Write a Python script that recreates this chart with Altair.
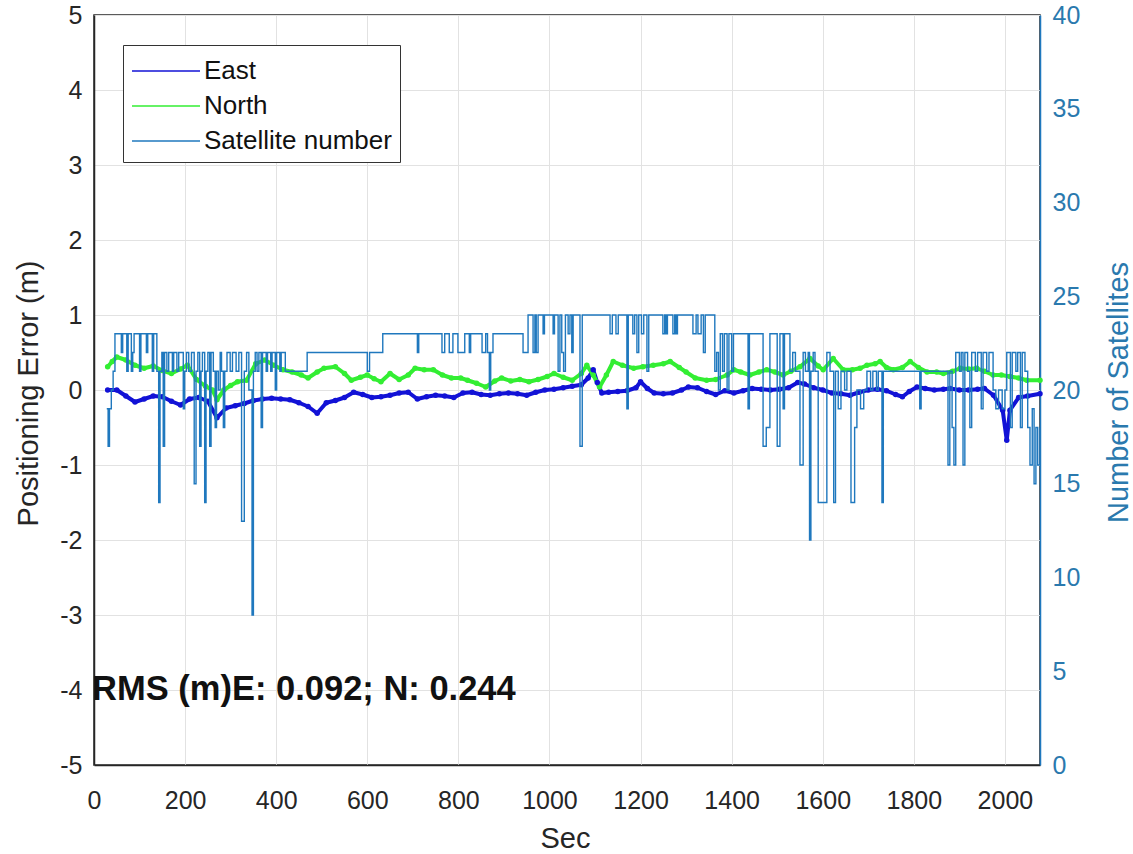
import altair as alt
import pandas as pd

# ---------------- data ----------------
east_t = [30,50,70,90,110,130,150,170,190,210,230,250,270,290,310,330,350,370,390,410,
          430,450,470,490,510,530,550,570,590,610,630,650,670,690,710,730,750,770,790,810,
          830,850,870,890,910,930,950,970,990,1010,1030,1050,1070,
          1085,1096,1105,1115,1130,1150,1170,1190,1200,1215,1230,1250,1270,1290,1305,1325,
          1345,1365,1385,1405,1425,1445,1465,1485,1505,1525,1545,1560,1580,1600,1620,1640,
          1660,1680,1700,1720,1740,1760,1775,1790,1807,1825,1845,1865,1880,1900,1920,1940,
          1955,1975,1995,2004,2011,2030,2050,2077]
east_v = [0.0,0.0,-0.08,-0.16,-0.12,-0.08,-0.09,-0.15,-0.2,-0.12,
          -0.1,-0.15,-0.37,-0.24,-0.21,-0.18,-0.14,-0.12,-0.11,-0.12,
          -0.13,-0.17,-0.22,-0.31,-0.17,-0.14,-0.1,-0.03,-0.06,-0.1,
          -0.09,-0.07,-0.04,-0.03,-0.12,-0.09,-0.07,-0.08,-0.1,-0.04,
          -0.03,-0.06,-0.07,-0.05,-0.04,-0.05,-0.07,-0.03,0.0,0.01,
          0.03,0.05,0.07,
          0.16,0.27,0.1,-0.04,-0.03,-0.02,-0.01,0.03,0.11,0.02,
          -0.04,-0.05,-0.04,0.0,0.04,0.03,-0.02,-0.06,-0.01,-0.04,
          -0.01,0.02,0.01,0.0,0.01,0.03,0.1,0.08,0.03,0.0,
          -0.04,-0.05,-0.07,-0.03,0.0,0.01,-0.01,-0.06,-0.09,-0.02,
          0.04,0.02,0.0,0.01,0.02,0.0,0.0,0.01,0.02,-0.07,
          -0.27,-0.67,-0.27,-0.1,-0.08,-0.05]

north_t = [30,40,50,70,90,110,130,150,170,190,205,225,245,260,270,285,300,315,335,355,
           375,395,415,435,455,470,490,505,530,550,565,585,600,615,630,650,670,690,705,725,
           745,765,785,805,820,840,860,880,895,915,935,955,975,995,1010,1030,1050,1070,1082,1096,
           1110,1125,1140,1160,1185,1205,1228,1250,1265,1285,1300,1320,1345,1365,1390,1405,1420,1440,1460,1477,
           1495,1513,1530,1550,1572,1590,1601,1623,1645,1665,1682,1697,1715,1726,1740,1755,1775,1792,1810,1829,
           1850,1865,1885,1902,1920,1938,1955,1974,1992,2011,2030,2048,2077]
north_v = [0.31,0.38,0.44,0.40,0.33,0.29,0.32,0.26,0.22,0.28,
           0.33,0.14,0.05,0.0,-0.13,0.0,0.06,0.11,0.13,0.35,
           0.4,0.33,0.27,0.24,0.2,0.16,0.24,0.29,0.31,0.22,
           0.13,0.17,0.2,0.15,0.11,0.22,0.14,0.2,0.29,0.27,
           0.27,0.2,0.16,0.16,0.13,0.09,0.04,0.12,0.16,0.12,
           0.14,0.11,0.14,0.18,0.22,0.17,0.13,0.22,0.33,0.2,
           0.04,0.2,0.38,0.33,0.29,0.31,0.33,0.35,0.38,0.3,
           0.24,0.16,0.13,0.14,0.2,0.27,0.24,0.2,0.24,0.27,
           0.24,0.2,0.25,0.31,0.42,0.32,0.27,0.42,0.27,0.27,
           0.29,0.33,0.35,0.38,0.3,0.27,0.3,0.38,0.3,0.24,
           0.24,0.22,0.25,0.29,0.28,0.29,0.25,0.2,0.2,0.18,
           0.16,0.13,0.13]

# satellite count: (second at which the value changes, new value)
sat_changes = [
    (28,19),(31,17),(34,19),(38,20),(42,21),(46,23),(60,22),(63,23),(72,21),(75,23),
    (82,21),(85,22),(88,23),(100,21),(103,23),(115,22),(118,23),(128,21),(131,23),(138,21),
    (142,14),(145,21),(149,22),(152,17),(155,22),(160,21),(164,22),(172,21),(175,22),(182,21),
    (186,22),(196,19),(199,21),(203,22),(208,21),(214,22),(220,15),(224,21),(228,22),(232,17),
    (235,21),(238,22),(243,14),(246,21),(250,22),(254,17),(257,22),(262,21),(266,18),(269,21),
    (273,20),(277,22),(280,21),(284,18),(287,21),(292,22),(299,21),(304,22),(312,21),(318,22),
    (324,13),(330,21),(335,22),(340,20),(347,8),(350,21),(354,22),(358,21),(362,22),(367,18),
    (370,22),(378,21),(381,22),(388,21),(391,22),(398,20),(401,22),(408,21),(411,22),(420,21),
    (468,22),(600,21),(605,22),(634,23),(710,22),(713,23),(764,22),(770,23),(780,22),(788,23),
    (799,22),(814,23),(824,22),(827,23),(852,22),(860,23),(864,22),(868,20),(871,22),(876,23),
    (942,22),(953,24),(964,22),(968,24),(971,22),(975,24),(986,23),(989,24),(1008,23),(1011,24),
    (1019,21),(1023,24),(1027,22),(1031,21),(1035,24),(1041,23),(1045,24),(1049,22),(1052,24),(1067,17),
    (1072,24),(1133,23),(1138,24),(1146,23),(1151,24),(1170,19),(1173,24),(1183,23),(1187,24),(1192,22),
    (1196,24),(1202,23),(1207,24),(1214,21),(1218,24),(1249,23),(1253,24),(1256,23),(1259,24),(1271,23),
    (1275,24),(1278,23),(1281,24),(1315,23),(1322,24),(1326,23),(1333,24),(1338,22),(1342,24),(1363,21),
    (1367,22),(1371,20),(1375,23),(1380,21),(1384,23),(1390,20),(1394,23),(1400,21),(1404,23),(1436,19),
    (1439,23),(1469,17),(1476,18),(1484,23),(1500,17),(1506,23),(1513,19),(1516,23),(1528,21),(1534,22),
    (1540,21),(1550,16),(1557,22),(1562,21),(1568,22),(1571,12),(1574,21),(1579,22),(1583,21),(1590,14),
    (1609,22),(1616,21),(1624,14),(1628,21),(1634,19),(1640,21),(1648,20),(1653,21),(1662,14),(1670,18),
    (1675,20),(1683,19),(1690,20),(1697,21),(1705,20),(1710,21),(1718,20),(1722,21),(1730,14),(1733,21),
    (1813,19),(1816,21),(1875,16),(1879,21),(1884,18),(1888,16),(1892,22),(1900,21),(1904,22),(1908,16),
    (1912,22),(1918,21),(1923,18),(1927,22),(1935,21),(1940,22),(1948,19),(1952,22),(1960,21),(1965,22),
    (1974,20),(1980,19),(1986,20),(1994,19),(2000,20),(2004,22),(2012,18),(2016,22),(2024,21),(2028,22),
    (2034,18),(2038,22),(2044,21),(2050,18),(2055,16),(2060,19),(2064,15),(2068,18),(2072,16),(2077,18),
]

series_names = ["East", "North", "Satellite number"]
series_colors = ["#1212D6", "#33EE33", "#1F78BE"]
x_ticks = list(range(0, 2001, 200))
left_ticks = list(range(-5, 6))
right_ticks = list(range(0, 41, 5))
rms_label = "RMS (m)E: 0.092; N: 0.244"

# ---------------- tables ----------------
east_df = pd.DataFrame({"t": east_t, "v": east_v, "series": "East"})
north_df = pd.DataFrame({"t": north_t, "v": north_v, "series": "North"})
en_df = pd.concat([east_df, north_df])
sat_df = pd.DataFrame({"t": [p[0] for p in sat_changes],
                       "n": [p[1] for p in sat_changes],
                       "series": "Satellite number"})
txt_df = pd.DataFrame({"t": [0], "v": [-4], "label": [rms_label]})

FONT = "Liberation Sans, Arial, sans-serif"
XDOM = [0, 2077]

legend = alt.Legend(title=None, orient="none", legendX=29, legendY=30,
                    symbolType="M-1,0H3", symbolSize=1156, symbolStrokeWidth=1.5,
                    labelFont=FONT, labelFontSize=26, labelColor="#111111",
                    labelOffset=37, labelLimit=400, padding=8, rowPadding=4,
                    strokeColor="#333333", fillColor="white")
color = alt.Color("series:N",
                  scale=alt.Scale(domain=series_names, range=series_colors),
                  legend=legend)

x_axis = alt.Axis(values=x_ticks, grid=True, gridColor="#E2E2E2", ticks=False, tickSize=0,
                  labelFont=FONT, labelFontSize=25, labelColor="#262626", labelPadding=23,
                  labelExpr="'' + datum.value", labelFlush=False,
                  domainColor="#262626", domainWidth=1.5,
                  title="Sec", titleFont=FONT, titleFontSize=29, titleFontWeight="normal",
                  titleColor="#262626", titleX=471, titleY=73, titleBaseline="middle",
                  titleAlign="center")
x_enc = alt.X("t:Q", scale=alt.Scale(domain=XDOM, nice=False, zero=False), axis=x_axis)

left_axis = alt.Axis(values=left_ticks, grid=True, gridColor="#E2E2E2", ticks=False, tickSize=0,
                     labelFont=FONT, labelFontSize=25, labelColor="#262626", labelPadding=12,
                     labelExpr="'' + datum.value", labelFlush=False,
                     domainColor="#262626", domainWidth=1.5,
                     title="Positioning Error (m)", titleFont=FONT, titleFontSize=29,
                     titleFontWeight="normal", titleColor="#262626",
                     titleX=-66, titleY=378, titleAngle=270, titleBaseline="middle",
                     titleAlign="center")
y_left = alt.Y("v:Q", scale=alt.Scale(domain=[-5, 5], nice=False, zero=False), axis=left_axis)

right_axis = alt.Axis(values=right_ticks, grid=False, ticks=False, tickSize=0, orient="right",
                      labelFont=FONT, labelFontSize=25, labelColor="#2A79AE", labelPadding=12,
                      labelFlush=False,
                      domainColor="#1F78BE", domainWidth=1.5,
                      title="Number of Satellites", titleFont=FONT, titleFontSize=29,
                      titleFontWeight="normal", titleColor="#2A79AE",
                      titleX=78, titleY=377, titleAngle=270, titleBaseline="middle",
                      titleAlign="center")
y_right = alt.Y("n:Q", scale=alt.Scale(domain=[0, 40], nice=False, zero=False), axis=right_axis)

en_lines = alt.Chart(en_df).mark_line(strokeWidth=4, strokeJoin="round").encode(
    x=x_enc, y=y_left, color=color, order="t:Q")

east_pts = alt.Chart(east_df).mark_circle(size=30, opacity=1, color=series_colors[0]).encode(
    x=x_enc, y=y_left)
north_pts = alt.Chart(north_df).mark_circle(size=30, opacity=1, color=series_colors[1]).encode(
    x=x_enc, y=y_left)

rms_text = alt.Chart(txt_df).mark_text(
    align="left", baseline="middle", font=FONT, fontSize=34.5, fontWeight="bold",
    color="#111111", dx=-2).encode(x=x_enc, y=y_left, text="label:N")

sat_line = alt.Chart(sat_df).mark_line(strokeWidth=1.4, interpolate="step-after").encode(
    x=x_enc, y=y_right, color=color, order="t:Q")

left_layer = alt.layer(en_lines, north_pts, east_pts, rms_text)

chart = alt.layer(left_layer, sat_line).resolve_scale(y="independent").properties(
    width=946, height=750,
    autosize=alt.AutoSizeParams(type="none"),
    padding={"left": 94, "top": 15, "right": 93, "bottom": 89},
    background="white",
).configure_view(stroke="#262626", strokeWidth=1.5)

chart.save("out.html", embed_options={"renderer": "svg", "actions": False})
